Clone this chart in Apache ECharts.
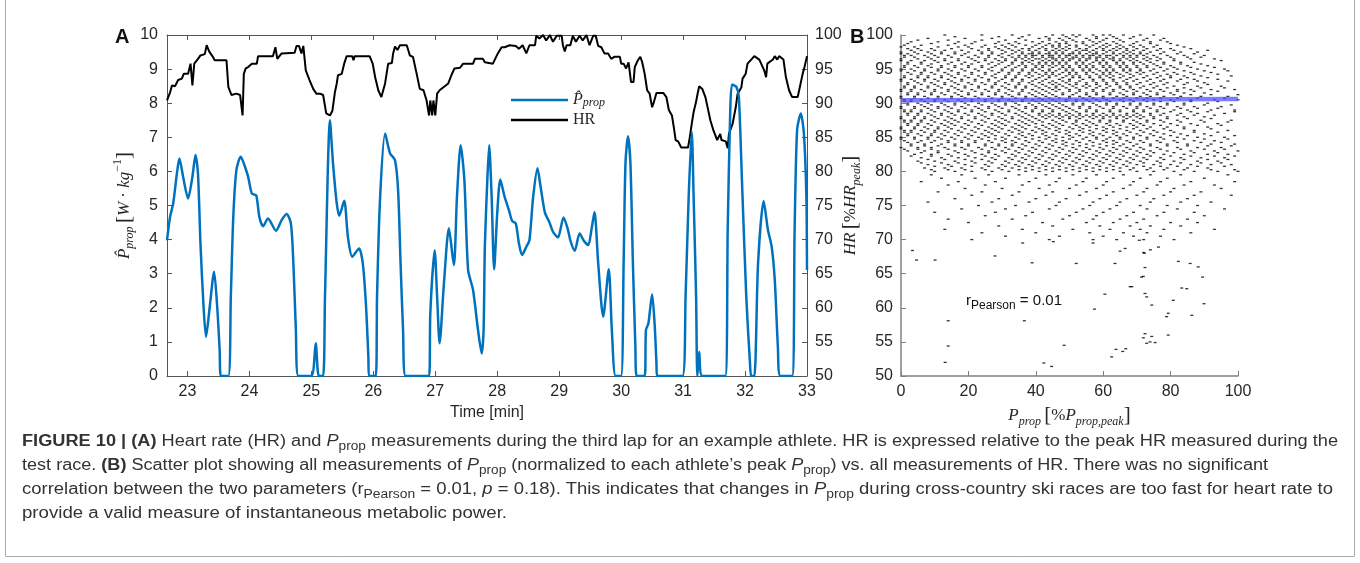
<!DOCTYPE html>
<html>
<head>
<meta charset="utf-8">
<script src="https://cdn.jsdelivr.net/npm/echarts@6/dist/echarts.min.js"></script>
<style>
html,body{margin:0;padding:0;background:#fff;}
#wrap{position:relative;width:1360px;height:563px;overflow:hidden;}
#chart{position:absolute;left:0;top:0;width:1360px;height:563px;}
.cap{position:absolute;left:22px;white-space:nowrap;font-family:"Liberation Sans",Arial,sans-serif;font-size:16px;line-height:20px;color:#333;transform-origin:0 50%;}
.cap sub{font-size:12px;vertical-align:-4px;line-height:0;}
</style>
</head>
<body>
<div id="wrap">
<div id="chart"></div>
<div class="cap" id="c1" data-w="1316" style="top:431px"><b>FIGURE 10 | (A)</b> Heart rate (HR) and <i>P</i><sub>prop</sub> measurements during the third lap for an example athlete. HR is expressed relative to the peak HR measured during the</div>
<div class="cap" id="c2" data-w="1246" style="top:455px">test race. <b>(B)</b> Scatter plot showing all measurements of <i>P</i><sub>prop</sub> (normalized to each athlete’s peak <i>P</i><sub>prop</sub>) vs. all measurements of HR. There was no significant</div>
<div class="cap" id="c3" data-w="1311" style="top:479px">correlation between the two parameters (r<sub>Pearson</sub> = 0.01, <i>p</i> = 0.18). This indicates that changes in <i>P</i><sub>prop</sub> during cross-country ski races are too fast for heart rate to</div>
<div class="cap" id="c4" data-w="485" style="top:503px">provide a valid measure of instantaneous metabolic power.</div>
</div>
<script>
// ---------- Panel A data ----------
const timeTicks = [23, 24, 25, 26, 27, 28, 29, 30, 31, 32, 33];
const propPower = [[22.67,3.98],[22.72,4.67],[22.77,5.06],[22.83,5.94],[22.87,6.38],[22.93,5.84],[23.01,5.21],[23.08,5.84],[23.13,6.48],[23.17,5.94],[23.21,3.89],[23.26,2.03],[23.30,1.15],[23.36,2.03],[23.43,3.06],[23.48,2.03],[23.52,0.76],[23.54,0],[23.66,0],[23.70,2.32],[23.74,4.67],[23.79,6.04],[23.86,6.43],[23.93,6.13],[23.98,5.84],[24.04,5.35],[24.11,5.30],[24.16,4.67],[24.22,4.39],[24.30,4.62],[24.43,4.26],[24.52,4.57],[24.60,4.75],[24.67,4.47],[24.71,3.30],[24.75,1.35],[24.79,0],[25.00,0],[25.07,0.96],[25.12,0],[25.19,0],[25.22,2.32],[25.30,7.50],[25.35,6.23],[25.41,5.06],[25.45,4.70],[25.53,5.14],[25.59,4.08],[25.66,3.50],[25.77,3.74],[25.83,3.30],[25.88,2.13],[25.92,0.57],[25.93,0],[26.04,0],[26.06,2.32],[26.11,5.25],[26.19,7.11],[26.27,6.53],[26.35,6.33],[26.40,5.45],[26.44,3.30],[26.48,1.35],[26.52,0],[26.90,0],[26.92,1.84],[26.99,3.69],[27.03,2.32],[27.07,0.96],[27.14,2.72],[27.22,4.33],[27.30,3.25],[27.35,5.25],[27.41,6.77],[27.47,5.74],[27.53,3.11],[27.61,2.52],[27.69,1.35],[27.75,0.66],[27.78,1.35],[27.80,3.79],[27.84,5.74],[27.87,6.77],[27.91,5.25],[27.95,3.13],[28.00,4.77],[28.05,5.76],[28.12,5.25],[28.19,4.86],[28.24,4.55],[28.30,4.47],[28.35,3.89],[28.40,3.55],[28.47,3.79],[28.52,3.98],[28.58,5.25],[28.65,6.09],[28.70,5.55],[28.77,4.79],[28.84,4.52],[28.90,4.23],[28.98,4.06],[29.07,4.65],[29.14,4.30],[29.18,3.98],[29.25,3.67],[29.33,4.18],[29.40,3.96],[29.47,3.84],[29.52,4.28],[29.57,4.81],[29.63,3.30],[29.71,1.74],[29.80,3.13],[29.85,1.35],[29.91,0],[30.00,0],[30.04,3.30],[30.07,6.23],[30.11,7.03],[30.15,6.23],[30.19,3.30],[30.23,0.86],[30.25,0],[30.38,0],[30.40,1.35],[30.44,1.54],[30.50,2.40],[30.54,1.54],[30.57,0.37],[30.58,0],[30.99,0],[31.04,2.32],[31.09,5.25],[31.14,7.16],[31.17,5.25],[31.21,2.32],[31.23,0],[31.26,0.71],[31.31,0],[31.68,0],[31.72,4.28],[31.76,7.70],[31.79,8.55],[31.86,8.48],[31.90,8.18],[31.95,5.74],[32.02,2.32],[32.08,0.37],[32.10,0],[32.15,0],[32.21,3.30],[32.30,5.13],[32.37,4.28],[32.43,3.79],[32.48,2.81],[32.53,0.86],[32.57,0],[32.76,0],[32.80,4.28],[32.84,7.21],[32.90,7.70],[32.95,7.11],[32.99,5.25],[33.00,3.11]];
const heartRate = [[22.67,90.4],[22.72,91.6],[22.75,92.6],[22.80,92.5],[22.85,93.4],[22.91,93.6],[22.94,94.3],[23.01,94.3],[23.05,95.8],[23.08,92.6],[23.11,95.8],[23.17,96.5],[23.21,97.0],[23.28,97.2],[23.31,98.5],[23.35,97.6],[23.41,96.8],[23.44,96.3],[23.63,96.3],[23.66,92.4],[23.71,91.2],[23.79,91.4],[23.85,91.2],[23.89,88.2],[23.91,94.3],[23.94,95.1],[23.98,95.3],[24.04,95.8],[24.12,95.8],[24.14,96.9],[24.38,96.9],[24.42,98.2],[24.45,96.5],[24.52,97.3],[24.73,97.4],[24.76,98.4],[24.80,98.4],[24.84,97.3],[24.87,98.4],[24.91,94.8],[24.97,93.4],[25.03,92.1],[25.08,91.4],[25.14,91.4],[25.19,91.2],[25.24,88.5],[25.30,88.2],[25.34,88.9],[25.38,91.6],[25.41,92.9],[25.43,94.1],[25.49,94.3],[25.53,95.8],[25.57,96.9],[25.66,96.9],[25.68,96.3],[25.70,96.9],[25.94,96.9],[25.99,95.8],[26.03,93.8],[26.08,91.9],[26.13,90.9],[26.19,92.9],[26.24,95.8],[26.30,95.9],[26.32,97.3],[26.35,98.3],[26.39,97.8],[26.43,98.5],[26.54,98.5],[26.59,97.0],[26.64,96.8],[26.70,94.3],[26.75,92.1],[26.81,91.9],[26.86,90.4],[26.90,88.2],[26.92,90.4],[26.95,88.2],[26.97,90.4],[27.00,88.2],[27.03,91.4],[27.07,91.9],[27.10,92.1],[27.21,92.9],[27.26,94.1],[27.31,95.1],[27.40,95.2],[27.45,95.8],[27.61,95.8],[27.64,96.5],[27.77,96.5],[27.80,96.0],[27.83,95.8],[27.93,95.8],[28.01,97.3],[28.07,98.2],[28.12,98.2],[28.20,98.5],[28.30,98.4],[28.35,98.0],[28.41,98.5],[28.47,97.3],[28.52,98.5],[28.61,98.5],[28.63,99.9],[28.68,99.5],[28.74,100],[28.79,99.2],[28.85,100],[28.90,99.0],[28.96,99.9],[29.04,99.9],[29.06,98.5],[29.09,97.6],[29.12,98.5],[29.18,98.5],[29.22,99.9],[29.27,99.0],[29.33,99.9],[29.38,99.2],[29.44,100],[29.49,98.5],[29.55,99.9],[29.59,99.9],[29.63,98.4],[29.68,98.2],[29.73,97.3],[29.79,97.3],[29.84,96.5],[29.89,96.8],[29.98,96.8],[30.00,95.8],[30.04,95.8],[30.08,95.1],[30.12,96.0],[30.16,93.1],[30.20,93.1],[30.22,95.3],[30.27,96.3],[30.31,96.8],[30.34,96.0],[30.38,94.3],[30.42,91.9],[30.46,91.4],[30.50,89.4],[30.53,90.2],[30.57,91.5],[30.68,91.5],[30.73,90.9],[30.77,89.0],[30.82,88.2],[30.85,86.5],[30.88,84.6],[30.92,84.4],[30.97,83.5],[31.08,83.5],[31.11,85.1],[31.14,87.0],[31.17,88.7],[31.21,90.2],[31.23,91.2],[31.26,92.5],[31.31,92.1],[31.36,90.9],[31.40,89.2],[31.44,87.5],[31.49,86.0],[31.55,84.6],[31.60,85.5],[31.62,84.6],[31.69,84.4],[31.72,83.4],[31.74,85.5],[31.80,87.0],[31.85,89.4],[31.88,91.4],[31.94,92.3],[31.96,93.6],[32.01,94.3],[32.04,95.8],[32.10,96.4],[32.15,96.9],[32.23,96.4],[32.26,95.8],[32.31,94.8],[32.34,93.8],[32.36,95.8],[32.39,95.9],[32.45,96.4],[32.48,96.9],[32.52,96.4],[32.55,96.9],[32.62,96.4],[32.66,93.8],[32.71,91.9],[32.76,90.9],[32.85,90.9],[32.89,92.6],[32.93,94.3],[32.96,95.3],[33.00,96.9]];

// ---------- Panel B data ----------
// rows of quantised HR (% of peak) with the P_prop (% of peak) values seen on that row
const scatterRows = [
[100,[13,24,33,38,45,48,51,53,57,60,62,66,71,75]],
[99.75,[16,29,36,43,49,52,58,63,69]],
[99.5,[8,19,27,35,41,44,47,50,55,58,61,64,68,73,78]],
[99.25,[5,14,24,31,37,44,48,51,56,60,65,72,77]],
[99,[3,11,17,22,29,34,39,42,46,49,52,54,57,59,63,66,70,74,79]],
[98.75,[2,9,16,21,28,32,35,41,44,47,49,54,58,61,64,69,74,80]],
[98.5,[1,6,14,19,25,30,33,37,40,43,45,47,50,52,55,57,60,62,65,68,71,76,82]],
[98.25,[0,4,11,17,20,24,28,31,34,39,42,45,47,49,52,56,59,61,64,66,69,72,75,84]],
[98,[2,5,9,15,21,26,29,32,36,38,41,43,46,48,50,53,55,58,60,63,65,67,70,73,77,80,86]],
[97.75,[3,6,10,13,18,23,26,30,33,35,38,40,43,45,47,49,52,54,55,57,60,62,64,67,69,72,76,81,91]],
[97.5,[0,4,8,12,16,20,24,27,31,34,36,39,41,44,46,48,51,53,56,58,61,63,66,68,71,74,78,83,88]],
[97.25,[0,2,5,9,12,16,19,24,27,30,33,36,38,39,41,43,44,46,48,50,51,53,55,57,58,60,63,65,67,69,71,73,77,82,87]],
[97,[1,3,7,10,14,18,22,26,29,32,35,37,39,40,42,44,45,47,49,50,52,54,56,57,59,61,62,64,66,68,70,72,75,79,84,90]],
[96.75,[1,4,8,11,15,20,23,26,30,33,35,37,39,42,44,45,47,49,51,52,54,56,58,59,61,63,66,68,70,73,76,80,85,89]],
[96.5,[0,5,9,13,17,21,25,28,31,34,36,38,40,41,43,45,46,48,50,51,53,55,56,58,60,62,63,65,67,69,72,74,77,81,86,93]],
[96.25,[0,3,7,10,13,17,22,25,29,31,34,37,39,42,44,46,48,50,53,55,58,60,63,65,68,70,73,76,81,95]],
[96,[2,6,11,15,19,23,27,30,33,36,38,41,43,45,47,49,52,54,57,59,61,64,66,69,71,74,78,83,87]],
[95.75,[2,6,9,14,18,21,26,29,33,36,39,41,43,45,47,49,52,54,56,59,61,64,66,69,72,75,78,83,89]],
[95.5,[1,4,8,12,16,20,24,28,32,35,37,40,42,44,46,48,50,53,55,57,60,62,65,67,70,73,76,80,85,91]],
[95.25,[1,5,9,12,16,20,24,27,31,34,37,40,42,45,48,50,53,55,57,60,62,65,67,70,73,77,81,86,93]],
[95,[0,3,7,11,14,18,22,26,30,33,36,39,41,44,47,49,51,54,56,58,61,63,66,68,71,75,79,82,88,96]],
[94.75,[0,4,7,11,15,19,23,27,30,33,36,39,42,44,46,49,51,54,56,59,61,63,66,68,71,74,78,84,90,97]],
[94.5,[2,6,9,13,17,21,25,29,32,35,38,40,43,45,48,50,52,55,57,60,62,64,67,70,72,76,81,86,92]],
[94.25,[3,6,10,14,17,21,25,28,32,35,38,41,43,45,47,50,52,55,58,60,62,65,68,71,75,79,82,87,94]],
[94,[1,5,8,12,15,19,23,27,31,34,37,39,42,44,46,49,51,53,56,59,61,63,66,69,73,77,80,84,89,98]],
[93.75,[1,5,8,12,16,20,24,28,31,34,38,41,44,48,51,53,56,59,62,65,68,72,76,80,85,91]],
[93.5,[0,3,7,10,14,18,22,26,30,33,36,40,43,47,50,54,57,60,63,67,70,74,78,83,87,94]],
[93.25,[0,4,7,11,15,18,22,26,29,33,36,39,42,45,48,50,53,57,60,63,66,69,73,77,82,88,97]],
[93,[2,5,9,13,16,20,24,28,31,35,38,41,44,46,49,52,55,58,61,64,67,71,75,79,85,90]],
[92.75,[2,6,10,13,17,21,25,28,32,35,39,42,45,47,50,52,55,58,61,64,67,70,74,78,84,91]],
[92.5,[1,4,8,11,15,19,23,27,30,34,37,40,43,46,48,51,54,56,59,62,65,68,72,76,81,88,95]],
[92.25,[1,4,8,12,16,19,23,27,31,34,37,41,44,46,49,52,55,58,61,65,68,71,75,79,84,89,96]],
[92,[0,3,6,10,14,17,21,25,29,32,36,39,42,45,47,50,53,57,60,63,66,69,73,77,82,86,92,99]],
[91.75,[0,3,7,10,14,18,22,26,29,33,36,40,43,46,50,53,57,60,63,67,70,74,78,82,87,94]],
[91.5,[2,5,9,12,16,20,24,28,31,35,38,41,44,48,52,55,58,62,65,69,72,76,80,84,90]],
[91.25,[2,5,9,13,17,20,24,28,32,35,39,42,45,48,51,55,58,62,66,69,73,76,81,86,92,100]],
[91,[0,4,7,11,15,18,22,26,30,33,37,40,43,46,50,53,56,60,64,67,71,74,78,83,89,97]],
[90.75,[0,4,8,11,15,19,23,27,30,34,37,41,44,47,50,54,57,60,63,66,70,73,77,82,88,96]],
[90.5,[1,3,6,10,13,17,21,25,29,32,36,39,42,45,49,52,55,58,61,65,68,72,75,80,86,93,100]],
[90.25,[1,3,7,10,14,18,21,25,29,33,36,40,43,46,49,52,56,59,62,66,69,73,77,81,86,94]],
[90,[2,5,8,12,16,19,23,27,31,34,38,41,44,47,51,54,57,61,64,68,71,75,79,84,91]],
[89.75,[2,6,9,13,16,20,24,28,31,35,39,42,45,48,51,54,58,61,64,68,71,75,79,84,90,98]],
[89.5,[0,4,7,11,14,18,22,26,29,33,37,40,43,46,49,53,56,59,63,66,70,73,77,82,87,95]],
[89.25,[0,4,8,11,15,19,23,26,30,34,37,40,44,47,50,53,56,60,63,67,70,74,78,83,88,94]],
[89,[1,3,6,9,13,17,21,24,28,32,35,39,42,45,48,51,55,58,62,65,69,72,76,81,85,92,99]],
[88.75,[1,3,6,10,14,17,21,25,29,32,36,39,42,45,49,52,55,58,62,65,69,72,76,80,86,91,99]],
[88.5,[2,5,8,12,15,19,23,27,30,34,37,41,44,47,50,53,57,60,63,67,70,74,78,83,88,96]],
[88.25,[2,5,9,12,16,20,24,27,31,35,38,41,43,45,47,49,51,53,55,57,59,61,63,65,67,69,71,74,77,82,87,93]],
[88,[0,4,7,10,14,18,22,25,29,33,36,39,42,44,46,48,50,52,54,56,58,60,62,64,66,68,70,72,75,79,84,90]],
[87.75,[0,4,7,11,15,18,22,26,30,33,37,40,43,47,50,53,57,60,64,67,71,75,79,85,92]],
[87.5,[1,3,6,9,13,16,20,24,28,31,35,38,41,45,48,52,55,59,62,66,69,73,77,82,89,98]],
[87.25,[1,3,6,10,14,17,21,25,29,32,36,39,42,46,49,52,56,59,62,66,70,73,78,83,90,97]],
[87,[2,5,8,12,15,19,23,27,30,34,37,40,44,47,51,54,57,61,64,68,71,75,80,86,94]],
[86.75,[2,5,9,13,16,20,24,28,31,35,38,42,45,48,52,55,58,62,65,69,72,77,82,88,95]],
[86.5,[0,4,7,11,14,18,22,26,29,33,36,40,43,46,50,53,56,60,63,67,70,74,79,84,91]],
[86.25,[0,4,8,11,15,19,23,27,30,34,37,41,44,47,51,54,58,61,65,69,73,78,84,92]],
[86,[1,3,6,10,13,17,21,25,28,32,35,39,42,46,49,53,56,60,63,67,71,75,80,87,97]],
[85.75,[1,3,7,10,14,18,22,26,29,33,36,40,43,47,50,54,57,61,64,68,72,76,81,87,94]],
[85.5,[2,5,9,12,16,20,24,27,31,35,38,42,45,49,52,56,59,63,66,70,74,78,83,90]],
[85.25,[2,6,9,13,17,21,25,28,32,36,39,43,46,50,53,57,60,64,67,71,75,80,85,92,99]],
[85,[0,4,8,11,15,19,23,26,30,34,37,41,44,48,51,55,58,62,65,69,73,77,82,88,96]],
[84.75,[0,4,8,12,16,20,24,28,31,35,39,43,46,50,54,58,61,65,69,73,78,84,90,97]],
[84.5,[1,6,10,14,18,22,26,30,33,37,41,45,48,52,56,60,63,67,71,76,81,87,93]],
[84.25,[2,5,9,14,18,22,27,31,34,38,42,46,49,53,57,61,64,68,72,77,82,89,95]],
[84,[3,7,12,16,20,25,29,33,36,40,44,48,51,55,59,63,66,70,74,79,85,92,99]],
[83.75,[3,7,11,16,20,25,29,33,37,41,45,49,53,57,61,65,69,74,79,85,91,98]],
[83.5,[0,5,9,13,18,23,27,31,35,39,43,47,51,55,59,63,67,71,76,82,88,95]],
[83.25,[1,5,9,14,19,24,28,32,36,40,44,48,52,56,60,64,68,72,77,83,90,96]],
[83,[2,7,11,16,21,26,30,34,38,42,46,50,54,58,62,66,70,74,79,86,93,100]],
[82.75,[6,11,17,22,26,31,35,39,43,47,51,55,59,63,67,71,75,81,87,94]],
[82.5,[4,9,14,19,24,28,33,37,41,45,49,53,57,61,65,69,73,78,84,91,97]],
[82.25,[3,9,15,20,25,29,34,38,42,46,50,54,58,62,66,70,74,80,86,93,99]],
[82,[6,12,17,22,27,32,36,40,44,48,52,56,60,64,68,72,77,83,89,96]],
[81.75,[8,13,19,24,28,33,37,41,45,49,53,57,61,65,69,73,78,84,91,97]],
[81.5,[5,10,16,21,26,31,35,39,43,47,51,55,59,63,67,71,76,81,88,94]],
[81.25,[6,12,17,22,27,32,36,40,44,48,52,56,60,64,68,72,77,83,89,95]],
[81,[8,14,19,25,30,34,38,42,46,50,54,58,62,66,70,75,80,86,92,98]],
[80.75,[10,15,21,26,31,35,39,43,47,51,55,59,63,67,72,77,82,88,96]],
[80.5,[7,13,18,24,29,33,37,41,45,49,53,57,61,65,69,74,79,85,91]],
[80.25,[9,14,19,25,30,35,39,43,47,51,55,59,63,68,73,78,84,92,99]],
[80,[10,16,21,27,32,37,41,45,49,53,57,61,65,70,75,81,87,94,100]],
[79.5,[9,18,26,35,43,51,58,66,74,83,97]],
[79,[12,22,31,40,47,55,63,71,79,90]],
[78.5,[6,17,28,38,46,54,61,69,77,86,99]],
[78,[14,25,36,44,52,60,68,76,84,93]],
[77.5,[19,30,41,50,58,66,73,81,95]],
[77,[11,24,35,45,55,63,72,80,89]],
[76.5,[21,33,43,53,61,70,78,87,98]],
[76,[16,29,40,49,59,67,75,85]],
[75.5,[8,27,38,47,57,65,74,83,92]],
[75,[23,34,46,56,64,71,79,88]],
[74.5,[18,31,44,54,62,73,82,96]],
[74,[10,28,39,52,60,69,78,87]],
[73.5,[25,37,50,58,67,76,90]],
[73,[14,33,48,57,65,72,85]],
[72.5,[20,42,55,63,70,80,88]],
[72,[29,45,59,68,74,83]],
[71.5,[13,36,51,62,71,78,93]],
[71,[24,40,56,66,73,86]],
[70.5,[31,47,60,69,77]],
[70,[21,44,57,64,72,81]]
];
// scattered single measurements below 70 %HRpeak: [P_prop, HR]
const sparsePoints = [[3.4,68.4],[4.6,67],[10.1,67],[27.9,67.6],[38.9,66.6],[52,66.5],[57,69.5],[45.2,69.7],[36.1,69.5],[63.5,66.5],[66.5,68.7],[68,63.1],[71.4,64.5],[72.4,65.9],[72,68.1],[70.7,69.9],[72.9,61.6],[74.4,60.4],[72.4,56.2],[73.9,55],[78.8,58.7],[79.3,59.2],[79.3,56],[80.8,61.1],[84.8,62.8],[86.3,58.9],[89.9,60.6],[88.2,66],[85.8,66.5],[89.5,64.5],[74,68.5],[76.4,68.9],[14,58.1],[14,54.4],[13.1,52],[36.6,58.1],[42.4,51.9],[44.7,51.4],[48.4,54.5],[57.4,59.8],[60.5,62],[63.8,53.9],[66.7,54],[65,68.3],[72.2,68],[71.9,64.6],[72.4,62.1],[72.9,54.8],[75.4,54.9],[68.5,63.1],[62.5,52.8],[65.8,53.6],[82.3,66.8],[83.3,62.9],[71.9,55.6],[74.4,55.8]];
// linear fit of HR on P_prop (r = 0.01)
const fitLine = [[0, 90.45], [100, 90.6]];

const scatterData = [];
scatterRows.forEach(function (row) {
  row[1].forEach(function (p) { scatterData.push([p, row[0]]); });
});
sparsePoints.forEach(function (pt) { scatterData.push(pt); });

const SANS = '"Liberation Sans", Arial, Helvetica, sans-serif';
const SERIF = '"Liberation Serif", "Times New Roman", serif';
const AXC = '#555';
const TXT = '#262626';

function mathRich(size, lh) {
  lh = lh || 24;
  return {
    i: {fontFamily: SERIF, fontStyle: 'italic', fontSize: size, color: TXT, lineHeight: lh, verticalAlign: 'middle'},
    n: {fontFamily: SERIF, fontSize: size, color: TXT, lineHeight: lh, verticalAlign: 'middle'},
    br: {fontFamily: SERIF, fontSize: size + 4, color: TXT, lineHeight: lh, verticalAlign: 'middle'},
    s: {fontFamily: SERIF, fontStyle: 'italic', fontSize: Math.round(size * 0.72), color: TXT, lineHeight: 14, verticalAlign: 'bottom'},
    sp: {fontFamily: SERIF, fontSize: Math.round(size * 0.72), color: TXT, lineHeight: 14, verticalAlign: 'top'}
  };
}

const chart = echarts.init(document.getElementById('chart'), null, {renderer: 'canvas'});
const option = {
  animation: false,
  backgroundColor: '#fff',
  grid: [
    {left: 167, top: 35, width: 640, height: 341},
    {left: 901, top: 35, width: 337, height: 341}
  ],
  legend: {
    data: ['Pprop', 'HR'],
    orient: 'vertical',
    left: 506,
    top: 87,
    icon: 'rect',
    itemWidth: 57,
    itemHeight: 2.5,
    itemGap: 3,
    textStyle: {fontFamily: SERIF, fontSize: 16, color: TXT, rich: mathRich(16, 18)},
    formatter: function (name) {
      return name === 'Pprop' ? '{i|P\u0302}{s|prop}' : '{n|HR}';
    }
  },
  xAxis: [
    {
      type: 'value', gridIndex: 0, min: 22.67, max: 33,
      name: 'Time [min]', nameLocation: 'middle', nameGap: 25,
      nameTextStyle: {fontFamily: SANS, fontSize: 16, color: TXT},
      axisLine: {show: true, lineStyle: {color: AXC, width: 1}},
      axisTick: {show: true, inside: true, length: 5, customValues: timeTicks, lineStyle: {color: AXC}},
      axisLabel: {fontFamily: SANS, fontSize: 16, color: TXT, margin: 8, customValues: timeTicks},
      splitLine: {show: false}
    },
    {
      type: 'value', gridIndex: 0, min: 22.67, max: 33, position: 'top',
      axisLine: {show: true, lineStyle: {color: AXC, width: 1}},
      axisTick: {show: true, inside: true, length: 5, customValues: timeTicks, lineStyle: {color: AXC}},
      axisLabel: {show: false},
      splitLine: {show: false}
    },
    {
      type: 'value', gridIndex: 1, min: 0, max: 100, interval: 20,
      name: '{i|P}{s|prop} {br|[}{n|%}{i|P}{s|prop,peak}{br|]}',
      nameLocation: 'middle', nameGap: 23,
      nameTextStyle: {rich: mathRich(17)},
      axisLine: {show: true, lineStyle: {color: '#808080', width: 1.5}},
      axisTick: {show: true, inside: true, length: 5, lineStyle: {color: '#808080'}},
      axisLabel: {fontFamily: SANS, fontSize: 16, color: TXT, margin: 8},
      splitLine: {show: false}
    }
  ],
  yAxis: [
    {
      type: 'value', gridIndex: 0, min: 0, max: 10, interval: 1,
      name: '{i|P\u0302}{s|prop} {br|[}{i|W}{n| \u00b7 }{i|kg}{sp|\u22121}{br|]}',
      nameLocation: 'middle', nameRotate: 90, nameGap: 29,
      nameTextStyle: {rich: mathRich(17)},
      axisLine: {show: true, lineStyle: {color: AXC, width: 1}},
      axisTick: {show: true, inside: true, length: 5, lineStyle: {color: AXC}},
      axisLabel: {fontFamily: SANS, fontSize: 16, color: TXT, margin: 9},
      splitLine: {show: false}
    },
    {
      type: 'value', gridIndex: 0, min: 50, max: 100, interval: 5, position: 'right',
      axisLine: {show: true, lineStyle: {color: AXC, width: 1}},
      axisTick: {show: true, inside: true, length: 5, lineStyle: {color: AXC}},
      axisLabel: {fontFamily: SANS, fontSize: 16, color: TXT, margin: 8},
      splitLine: {show: false}
    },
    {
      type: 'value', gridIndex: 1, min: 50, max: 100, interval: 5,
      name: '{i|HR} {br|[}{n|%}{i|HR}{s|peak}{br|]}',
      nameLocation: 'middle', nameRotate: 90, nameGap: 37,
      nameTextStyle: {rich: mathRich(17)},
      axisLine: {show: true, lineStyle: {color: '#808080', width: 1.5}},
      axisTick: {show: true, inside: true, length: 5, lineStyle: {color: '#808080'}},
      axisLabel: {fontFamily: SANS, fontSize: 16, color: TXT, margin: 8},
      splitLine: {show: false}
    }
  ],
  series: [
    {
      name: 'HR', type: 'line', xAxisIndex: 0, yAxisIndex: 1,
      data: heartRate, showSymbol: false, symbol: 'none', clip: true,
      lineStyle: {color: '#000', width: 2}, itemStyle: {color: '#000'}, z: 3
    },
    {
      name: 'Pprop', type: 'line', xAxisIndex: 0, yAxisIndex: 0,
      data: propPower, showSymbol: false, symbol: 'none', smooth: 0.25, clip: true,
      lineStyle: {color: '#0072BD', width: 2.5}, itemStyle: {color: '#0072BD'}, z: 4
    },
    {
      name: 'all', type: 'scatter', xAxisIndex: 2, yAxisIndex: 2,
      data: scatterData, symbol: 'rect', symbolSize: [3, 1.3],
      itemStyle: {color: '#000'}, silent: true, z: 2
    },
    {
      name: 'fit', type: 'line', xAxisIndex: 2, yAxisIndex: 2,
      data: fitLine, showSymbol: false, symbol: 'none',
      lineStyle: {color: 'rgba(70,70,255,0.7)', width: 4.5}, z: 5
    }
  ],
  graphic: [
    {type: 'rect', shape: {x: 5.5, y: -2, width: 1349, height: 558.5}, style: {fill: 'none', stroke: '#aaa', lineWidth: 1}, silent: true},
    {type: 'text', left: 115, top: 27, style: {text: 'A', fontFamily: SANS, fontWeight: 'bold', fontSize: 20, fill: '#111'}},
    {type: 'text', left: 850, top: 27, style: {text: 'B', fontFamily: SANS, fontWeight: 'bold', fontSize: 20, fill: '#111'}},
    {type: 'text', left: 966, top: 293, style: {
      text: '{m|r}{s|Pearson}{m| = 0.01}',
      rich: {
        m: {fontFamily: SANS, fontSize: 15, fill: '#111', color: '#111', lineHeight: 22, verticalAlign: 'middle'},
        s: {fontFamily: SANS, fontSize: 12, fill: '#111', color: '#111', lineHeight: 12, verticalAlign: 'bottom'}
      }
    }}
  ]
};
chart.setOption(option);

// fit caption lines to their measured widths in the reference
document.querySelectorAll('.cap').forEach(function (el) {
  const target = parseFloat(el.getAttribute('data-w'));
  const w = el.getBoundingClientRect().width;
  if (w > 0) el.style.transform = 'scaleX(' + (target / w).toFixed(4) + ')';
});
</script>
</body>
</html>
